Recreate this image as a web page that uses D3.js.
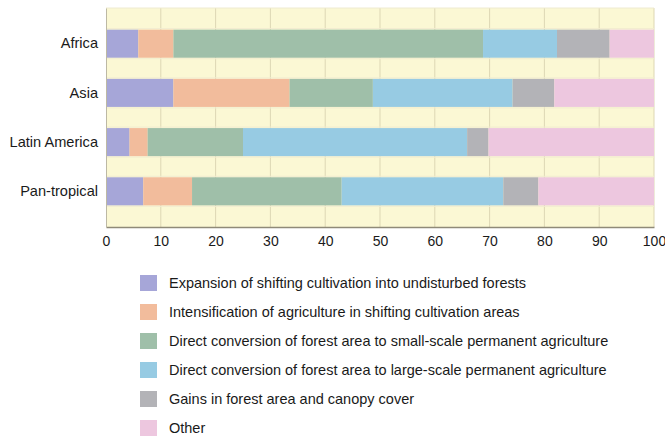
<!DOCTYPE html>
<html><head><meta charset="utf-8">
<script src="https://cdn.jsdelivr.net/npm/d3@7"></script>
<style>body{margin:0;background:#fff}text{font-family:"Liberation Sans",Arial,sans-serif}</style>
</head><body><svg id="c" width="665" height="438"></svg>
<script>
const categories = ["Africa","Asia","Latin America","Pan-tropical"];
const seriesNames = [
  "Expansion of shifting cultivation into undisturbed forests",
  "Intensification of agriculture in shifting cultivation areas",
  "Direct conversion of forest area to small-scale permanent agriculture",
  "Direct conversion of forest area to large-scale permanent agriculture",
  "Gains in forest area and canopy cover",
  "Other"
];
const expansion     = [5.9, 12.3, 4.3, 6.8];
const intensification = [6.4, 21.2, 3.3, 8.9];
const smallScale    = [56.5, 15.2, 17.4, 27.3];
const largeScale    = [13.5, 25.5, 40.9, 29.5];
const gains         = [9.6, 7.6, 3.9, 6.4];
const other         = [8.1, 18.2, 30.2, 21.1];
const xTicks = [0,10,20,30,40,50,60,70,80,90,100];
const colors = ["#a6a6d8","#f2bc9c","#9fbfa9","#97cbe3","#b3b3b7","#edc7df"];

const seriesValues = [expansion, intensification, smallScale, largeScale, gains, other];
const rows = categories.map((c,i)=>{const o={cat:c}; seriesNames.forEach((s,j)=>o[s]=seriesValues[j][i]); return o;});
const stacked = d3.stack().keys(seriesNames)(rows);

const svg = d3.select("#c");
const m = {l:106, r:654, t:8, b:227};
const x = d3.scaleLinear().domain([0,100]).range([m.l, m.r]);
const y = d3.scaleBand().domain(categories).range([m.t, m.b]).paddingInner(0.43).paddingOuter(0.44);

svg.append("rect").attr("x",m.l).attr("y",m.t).attr("width",m.r-m.l).attr("height",m.b-m.t).attr("fill","#fbf8d4");
svg.append("g").selectAll("line").data(xTicks.slice(1)).join("line")
  .attr("x1",d=>x(d)).attr("x2",d=>x(d)).attr("y1",m.t).attr("y2",m.b)
  .attr("stroke","#ddd7b4").attr("stroke-width",1);
const hl = [];
categories.forEach(c=>{hl.push(y(c)-1); hl.push(y(c)+y.bandwidth()+1);});
svg.append("g").selectAll("line").data(hl).join("line")
  .attr("x1",m.l).attr("x2",m.r).attr("y1",d=>d).attr("y2",d=>d)
  .attr("stroke","#f1ecd0").attr("stroke-width",1);
svg.append("line").attr("x1",m.l).attr("x2",m.r).attr("y1",m.t).attr("y2",m.t).attr("stroke","#eeead0");

svg.append("g").selectAll("g").data(stacked).join("g").attr("fill",(d,i)=>colors[i])
  .selectAll("rect").data(d=>d).join("rect")
  .attr("x",d=>x(d[0])).attr("width",d=>x(d[1])-x(d[0]))
  .attr("y",d=>y(d.data.cat)).attr("height",y.bandwidth());

const xa = svg.append("g").attr("transform",`translate(0,${m.b})`)
  .call(d3.axisBottom(x).tickValues(xTicks).tickSize(0).tickPadding(9));
xa.select(".domain").attr("stroke","#8f8a78").attr("stroke-width",1.5);
xa.selectAll("text").attr("font-size",14).attr("fill","#1a1a1a");
const ya = svg.append("g").attr("transform",`translate(${m.l},0)`)
  .call(d3.axisLeft(y).tickSize(0).tickPadding(8));
ya.select(".domain").attr("stroke","#bdb9a4").attr("stroke-width",1);
ya.selectAll("text").attr("font-size",14.6).attr("fill","#1a1a1a");

const lg = svg.append("g");
const ly = d3.scalePoint().domain(seriesNames).range([283,428]);
seriesNames.forEach((s,i)=>{
  lg.append("rect").attr("x",140).attr("y",ly(s)-8).attr("width",17).attr("height",16).attr("fill",colors[i]);
  lg.append("text").attr("x",169).attr("y",ly(s)).attr("dy","0.35em").attr("font-size",14.5).attr("fill","#1a1a1a").text(s);
});
</script></body></html>
